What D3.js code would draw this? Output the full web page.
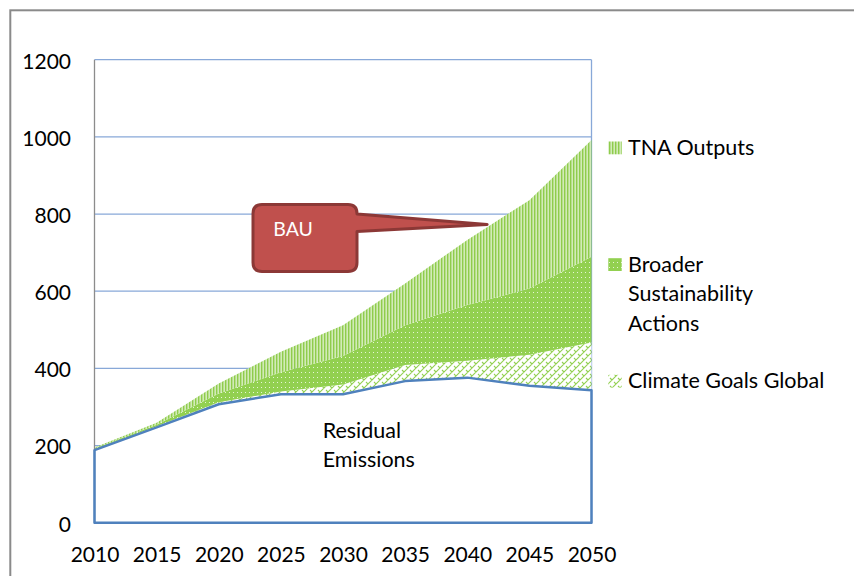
<!DOCTYPE html>
<html>
<head>
<meta charset="utf-8">
<script src="https://cdn.jsdelivr.net/npm/d3@7"></script>
<style>
  body { margin: 0; background: #fff; }
  svg text { font-family: Lato, "Open Sans", sans-serif; fill: #000; }
</style>
</head>
<body>
<script>
// chart data
var years = [2010, 2015, 2020, 2025, 2030, 2035, 2040, 2045, 2050];
var residual = [188, 247, 307, 333, 333, 367, 376, 355, 343];
var climateGoals = [2, 3, 5, 7, 25, 42, 44, 80, 124];
var broaderActions = [2, 4, 23, 50, 74, 103, 144, 172, 222];
var tnaOutputs = [3, 5, 26, 53, 80, 108, 169, 229, 303];
var yTicks = [0, 200, 400, 600, 800, 1000, 1200];
var legendItems = [
    { key: "tna", lines: ["TNA Outputs"] },
    { key: "broader", lines: ["Broader", "Sustainability", "Actions"] },
    { key: "climate", lines: ["Climate Goals Global"] }
];
var bauTip = { year: 2041.6, value: 773 };

var w = 854, h = 576;

var x = d3.scaleLinear().domain([2010, 2050]).range([94.5, 591.5]);
var y = d3.scaleLinear().domain([0, 1200]).range([522.7, 59.7]);

var svg = d3.select("body").append("svg")
    .attr("width", w)
    .attr("height", h);

// patterns for the fills
var defs = svg.append("defs");

var pTna = defs.append("pattern").attr("id", "p-tna")
    .attr("patternUnits", "userSpaceOnUse").attr("width", 3).attr("height", 4);
pTna.append("rect").attr("width", 3).attr("height", 4).attr("fill", "#d2ebb8");
pTna.append("rect").attr("width", 1.4).attr("height", 4).attr("fill", "#8fcc4c");

var pBroad = defs.append("pattern").attr("id", "p-broader")
    .attr("patternUnits", "userSpaceOnUse").attr("width", 4).attr("height", 5);
pBroad.append("rect").attr("width", 4).attr("height", 5).attr("fill", "#92d050");
pBroad.append("rect").attr("x", 1).attr("y", 2).attr("width", 1).attr("height", 1).attr("fill", "#e6f4d8");

var pClim = defs.append("pattern").attr("id", "p-climate")
    .attr("patternUnits", "userSpaceOnUse").attr("width", 8).attr("height", 8);
pClim.append("rect").attr("width", 8).attr("height", 8).attr("fill", "#fff");
pClim.append("path").attr("d", "M0,8 L8,0 M-2,2 L2,-2 M6,10 L10,6 M2,2 L4,4 M6,6 L8,8")
    .attr("stroke", "#92d050").attr("stroke-width", 1.1).attr("fill", "none");

var fills = { climate: "url(#p-climate)", broader: "url(#p-broader)", tna: "url(#p-tna)" };

// outer chart border
svg.append("rect")
    .attr("x", 10.3).attr("y", 10.3)
    .attr("width", 900).attr("height", 700)
    .attr("fill", "none")
    .attr("stroke", "#8a8a8a")
    .attr("stroke-width", 2);

// gridlines
svg.append("g").selectAll("line")
    .data(yTicks.filter(function(d) { return d > 0; }))
    .enter().append("line")
    .attr("x1", x(2010)).attr("x2", x(2050))
    .attr("y1", function(d) { return y(d); })
    .attr("y2", function(d) { return y(d); })
    .attr("stroke", "#88a8d8")
    .attr("stroke-width", 1.3);

// right edge of plot
svg.append("line")
    .attr("x1", x(2050)).attr("x2", x(2050))
    .attr("y1", y(1200)).attr("y2", y(0))
    .attr("stroke", "#88a8d8").attr("stroke-width", 1.3);

// stack the series
var table = years.map(function(yr, i) {
    return { year: yr, residual: residual[i], climate: climateGoals[i], broader: broaderActions[i], tna: tnaOutputs[i] };
});
var series = d3.stack().keys(["residual", "climate", "broader", "tna"])(table);

var area = d3.area()
    .x(function(d) { return x(d.data.year); })
    .y0(function(d) { return y(d[0]); })
    .y1(function(d) { return y(d[1]); });

// residual area: white fill
svg.append("path")
    .datum(series[0])
    .attr("d", area)
    .attr("fill", "#fff");

// green layers
svg.append("g").selectAll("path")
    .data(series.slice(1))
    .enter().append("path")
    .attr("d", area)
    .attr("fill", function(d) { return fills[d.key]; });

// left axis line
svg.append("line")
    .attr("x1", x(2010)).attr("x2", x(2010))
    .attr("y1", y(1200)).attr("y2", y(0))
    .attr("stroke", "#8c8c8c").attr("stroke-width", 1.3);

// residual outline on top
svg.append("path")
    .attr("d", area(series[0]) + "Z")
    .attr("fill", "none")
    .attr("stroke", "#4f81bd")
    .attr("stroke-width", 2.5)
    .attr("stroke-linejoin", "round");

// y axis labels
var yAxis = svg.append("g")
    .attr("transform", "translate(" + x(2010) + ",0)")
    .call(d3.axisLeft(y).tickValues(yTicks).tickFormat(d3.format("d")).tickSize(0).tickPadding(23.5));
yAxis.select(".domain").remove();
yAxis.selectAll("text").attr("dy", "0.4em")
    .style("font-size", "21px").style("font-family", "Lato, sans-serif").attr("fill", "#000");

// x axis labels
var xAxis = svg.append("g")
    .attr("transform", "translate(0," + y(0) + ")")
    .call(d3.axisBottom(x).tickValues(years).tickFormat(d3.format("d")).tickSize(0).tickPadding(24.5));
xAxis.select(".domain").remove();
xAxis.selectAll("text")
    .style("font-size", "21px").style("font-family", "Lato, sans-serif").attr("fill", "#000");

// legend
var legendY = { tna: 155, broader: 271.7, climate: 388.3 };
var legend = svg.append("g").selectAll("g")
    .data(legendItems)
    .enter().append("g");
legend.append("rect")
    .attr("x", 608.3)
    .attr("y", function(d) { return legendY[d.key] - 13.5; })
    .attr("width", 13.4).attr("height", 12.8)
    .attr("fill", function(d) { return fills[d.key]; });
legend.append("text")
    .attr("x", 628)
    .attr("y", function(d) { return legendY[d.key]; })
    .style("font-size", "21.5px")
    .selectAll("tspan")
    .data(function(d) { return d.lines; })
    .enter().append("tspan")
    .attr("x", 628)
    .attr("dy", function(d, i) { return i === 0 ? 0 : 29.5; })
    .text(function(d) { return d; });

// residual emissions label
svg.append("text")
    .attr("x", 322.7).attr("y", 438.3)
    .style("font-size", "21.5px")
    .selectAll("tspan")
    .data(["Residual", "Emissions"])
    .enter().append("tspan")
    .attr("x", 322.7)
    .attr("dy", function(d, i) { return i === 0 ? 0 : 28.5; })
    .text(function(d) { return d; });

// BAU callout
var bx0 = 253, bx1 = 357, by0 = 204.5, by1 = 271.5, r = 9;
var tx = x(bauTip.year), ty = y(bauTip.value);
var callout = "M" + (bx0 + r) + "," + by0 +
    " L" + (bx1 - r) + "," + by0 +
    " Q" + bx1 + "," + by0 + " " + bx1 + "," + (by0 + r) +
    " L" + bx1 + ",214" +
    " L" + tx + "," + ty +
    " L" + bx1 + ",231.5" +
    " L" + bx1 + "," + (by1 - r) +
    " Q" + bx1 + "," + by1 + " " + (bx1 - r) + "," + by1 +
    " L" + (bx0 + r) + "," + by1 +
    " Q" + bx0 + "," + by1 + " " + bx0 + "," + (by1 - r) +
    " L" + bx0 + "," + (by0 + r) +
    " Q" + bx0 + "," + by0 + " " + (bx0 + r) + "," + by0 + " Z";
svg.append("path")
    .attr("d", callout)
    .attr("fill", "#c0504d")
    .attr("stroke", "#8c3836")
    .attr("stroke-width", 3)
    .attr("stroke-linejoin", "round");
svg.append("text")
    .attr("x", 273.3).attr("y", 235.7)
    .style("font-size", "19.5px")
    .style("fill", "#fff")
    .text("BAU");
</script>
</body>
</html>
